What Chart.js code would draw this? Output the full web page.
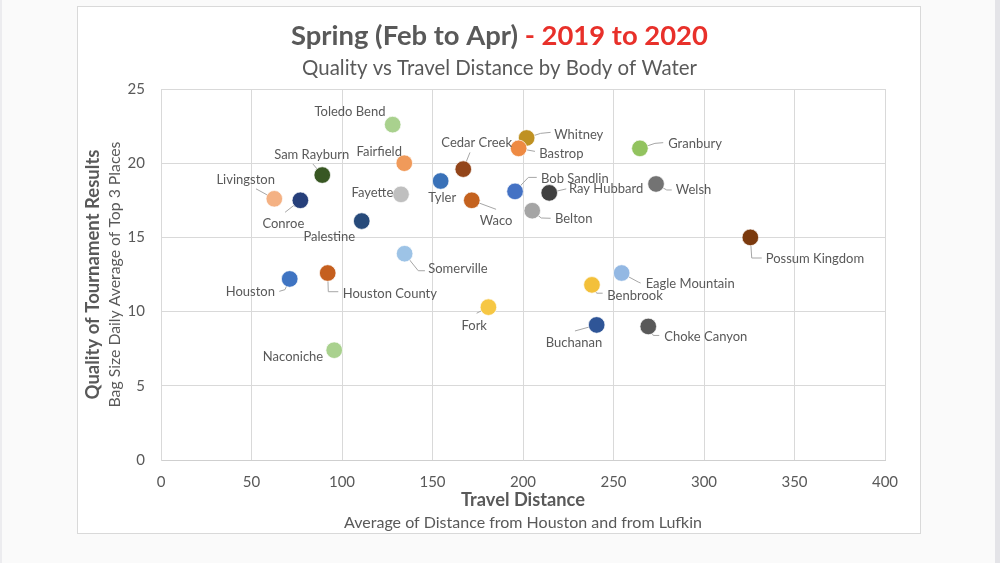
<!DOCTYPE html>
<html><head><meta charset="utf-8">
<script src="https://cdn.jsdelivr.net/npm/chart.js@4"></script>
<style>
html,body{margin:0;padding:0;background:#fafafa;overflow:hidden;}
#wrap{position:relative;width:1000px;height:563px;}
canvas{display:block;}
</style></head><body>
<div id="wrap"><canvas id="c" width="1000" height="563"></canvas></div>
<script>
// ---- data ----
const lakes = ["Toledo Bend","Fairfield","Sam Rayburn","Livingston","Conroe","Fayette","Palestine","Tyler","Cedar Creek","Waco","Whitney","Bastrop","Bob Sandlin","Ray Hubbard","Belton","Granbury","Welsh","Possum Kingdom","Somerville","Houston","Houston County","Fork","Naconiche","Eagle Mountain","Benbrook","Buchanan","Choke Canyon"];
const travelDistance = [128.0,134.4,89.1,62.6,77.0,132.6,110.9,154.5,167.0,171.7,202.0,197.6,195.6,214.5,205.1,264.6,273.5,325.6,134.6,71.1,92.1,180.9,95.7,254.5,238.1,240.7,269.2];
const bagSize = [22.6,20.0,19.2,17.6,17.5,17.9,16.1,18.8,19.6,17.5,21.7,21.0,18.1,18.0,16.8,21.0,18.6,15.0,13.9,12.2,12.6,10.3,7.4,12.6,11.8,9.1,9.0];
const xTickValues = [0,50,100,150,200,250,300,350,400];
const yTickValues = [0,5,10,15,20,25];

// ---- styles ----
const pointColors = ["#a9d18e","#f09a5a","#385723","#f4b183","#263f7a","#bfbfbf","#274a7a","#3971b8","#93451a","#c4621f","#bf9122","#ee8a43","#4472c4","#404040","#a5a5a5","#92c35f","#737373","#7b3a0e","#9dc3e6","#3f74c2","#c55f1e","#f6c744","#a9d18e","#93b8e3","#f3c03a","#2f5597","#595959"];
// label placement relative to point centre (px): [dx, dy, align]
const labelPlacement = [
  [-42.7,-13.3,"center"],[-25,-11.7,"center"],[-10.6,-20.7,"center"],[-28.6,-19.4,"center"],[-17,23.7,"center"],
  [-7.7,-1.7,"right"],[-32.4,16,"center"],[1.6,16.6,"center"],[13.4,-26.7,"center"],[24.3,20.7,"center"],
  [27.6,-3.3,"left"],[20.6,5,"left"],[26,-12.7,"left"],[19.7,-3.7,"left"],[22.7,8.3,"left"],
  [28.3,-4.3,"left"],[19.7,6.3,"left"],[15.4,21.6,"left"],[23.6,14.6,"left"],[-14.7,12.7,"right"],
  [15,20.3,"left"],[-14.2,18.5,"center"],[-11,7,"right"],[24,10.6,"left"],[15.3,10.6,"left"],
  [-22.7,18.3,"center"],[16,10.3,"left"]
];
// leader line waypoints relative to point centre (px); line ends at the centre
const leaderPaths = [
  null,null,[[-9.3,-11]],[[-18.3,-10]],[[-15.3,12]],
  null,null,null,[[6.7,-16.7]],[[24.3,9]],
  [[24,-5.6],[14,-4.6]],[[16.3,3],[8,1.5]],[[21.7,-14],[13.3,-14]],[[17,-4]],[[18.4,7.6],[9,7.3]],
  [[23.3,-5.7],[15,-5]],[[15.7,6],[10.7,6]],[[11.4,20.6],[1.4,20.6]],[[20.3,17],[13.6,17]],[[-10.4,12.4],[-4.7,10.7]],
  [[10.6,18.7],[0.6,18.7]],[[-11.8,6.1]],[[-4.3,5.7]],[[19,10],[16.6,9]],[[10.7,8.3],[4.7,8.3]],
  [[-21.7,6]],[[11,9],[5,9]]
];

const GRAY = "#595959";
const FONT = "Lato";

function fitSize(ctx, text, weight, target){
  ctx.font = weight + " 100px " + FONT;
  return 100 * target / ctx.measureText(text).width;
}

const backgroundPlugin = {
  id:"bg",
  beforeDraw(chart){
    const ctx = chart.ctx;
    ctx.save();
    ctx.fillStyle = "#fafafa"; ctx.fillRect(0,0,1000,563);
    ctx.fillStyle = "#e4e4e8"; ctx.fillRect(995,0,5,563);
    ctx.fillStyle = "#ececef"; ctx.fillRect(0,0,2,563);
    ctx.fillStyle = "#ffffff"; ctx.fillRect(77.5,6.5,843,527);
    ctx.strokeStyle = "#d9d9d9"; ctx.lineWidth = 1; ctx.strokeRect(77.5,6.5,843,527);
    ctx.restore();
  }
};

const textPlugin = {
  id:"texts",
  afterDraw(chart){
    const ctx = chart.ctx, a = chart.chartArea;
    ctx.save();
    ctx.textBaseline = "middle";
    // title
    const p1 = "Spring (Feb to Apr) ", p2 = "- 2019 to 2020";
    const ts = fitSize(ctx, p1 + p2, "bold", 417);
    ctx.font = "bold " + ts + "px " + FONT;
    const w1 = ctx.measureText(p1).width;
    const startX = 499.5 - 417/2;
    ctx.textAlign = "left";
    ctx.fillStyle = GRAY; ctx.fillText(p1, startX, 36);
    ctx.fillStyle = "#e8302a"; ctx.fillText(p2, startX + w1, 36);
    // subtitle
    const st = "Quality vs Travel Distance by Body of Water";
    ctx.font = fitSize(ctx, st, "normal", 395) + "px " + FONT;
    ctx.textAlign = "center"; ctx.fillStyle = GRAY;
    ctx.fillText(st, 499.5, 68);
    // x axis titles
    const cx = (a.left + a.right)/2;
    const xt = "Travel Distance";
    ctx.font = "bold " + fitSize(ctx, xt, "bold", 124) + "px " + FONT;
    ctx.fillText(xt, cx, 500);
    const xs = "Average of Distance from Houston and from Lufkin";
    ctx.font = fitSize(ctx, xs, "normal", 358) + "px " + FONT;
    ctx.fillText(xs, cx, 523);
    // y axis titles
    const cy = (a.top + a.bottom)/2;
    const yt = "Quality of Tournament Results";
    const ytSize = fitSize(ctx, yt, "bold", 250);
    const ys = "Bag Size Daily Average of Top 3 Places";
    const ysSize = fitSize(ctx, ys, "normal", 266);
    ctx.translate(93.5, cy); ctx.rotate(-Math.PI/2);
    ctx.font = "bold " + ytSize + "px " + FONT; ctx.fillText(yt, 0, 0);
    ctx.rotate(Math.PI/2); ctx.translate(-93.5, -cy);
    ctx.translate(115, cy); ctx.rotate(-Math.PI/2);
    ctx.font = ysSize + "px " + FONT; ctx.fillText(ys, 0, 0);
    ctx.restore();
  }
};

const labelPlugin = {
  id:"pointLabels",
  beforeDatasetsDraw(chart){
    const ctx = chart.ctx, meta = chart.getDatasetMeta(0);
    ctx.save();
    ctx.strokeStyle = "#a6a6a6"; ctx.lineWidth = 1;
    meta.data.forEach((pt, i) => {
      const path = leaderPaths[i];
      if (!path) return;
      ctx.beginPath();
      path.forEach(([dx,dy], j) => j ? ctx.lineTo(pt.x+dx, pt.y+dy) : ctx.moveTo(pt.x+dx, pt.y+dy));
      ctx.lineTo(pt.x, pt.y);
      ctx.stroke();
    });
    ctx.restore();
  },
  afterDatasetsDraw(chart){
    const ctx = chart.ctx, meta = chart.getDatasetMeta(0);
    ctx.save();
    ctx.font = "13px " + FONT;
    ctx.fillStyle = GRAY;
    ctx.textBaseline = "middle";
    meta.data.forEach((pt, i) => {
      const [dx, dy, align] = labelPlacement[i];
      ctx.textAlign = align;
      ctx.fillText(lakes[i], pt.x + dx, pt.y + dy);
    });
    ctx.restore();
  }
};

const points = travelDistance.map((x, i) => ({x, y: bagSize[i]}));

new Chart(document.getElementById("c"), {
  type: "scatter",
  data: { datasets: [{
    label: "Bodies of water",
    data: points,
    backgroundColor: pointColors,
    borderColor: "rgba(255,255,255,0.7)",
    borderWidth: 1,
    pointRadius: 8.3,
    pointHoverRadius: 8.3
  }]},
  options: {
    responsive: false,
    devicePixelRatio: 1,
    animation: false,
    layout: { padding: { top: 89, right: 115, bottom: 0, left: 0 } },
    plugins: { legend: { display: false }, tooltip: { enabled: false }, title: { display: false } },
    scales: {
      x: {
        type: "linear", min: 0, max: 400,
        afterBuildTicks(scale){ scale.ticks = xTickValues.map(v => ({value: v})); },
        afterFit(scale){ scale.height = 563 - 460; },
        ticks: { color: GRAY, font: { family: FONT, size: 15 }, padding: 13, maxRotation: 0 },
        grid: { color: "#d9d9d9", lineWidth: 1, drawTicks: false },
        border: { color: "#cfcfcf", width: 1 }
      },
      y: {
        type: "linear", min: 0, max: 25,
        afterBuildTicks(scale){ scale.ticks = yTickValues.map(v => ({value: v})); },
        afterFit(scale){ scale.width = 161; },
        ticks: { color: GRAY, font: { family: FONT, size: 15 }, padding: 16 },
        grid: { color: "#d9d9d9", lineWidth: 1, drawTicks: false },
        border: { color: "#d9d9d9", width: 1 }
      }
    }
  },
  plugins: [backgroundPlugin, textPlugin, labelPlugin]
});
</script>
</body></html>
